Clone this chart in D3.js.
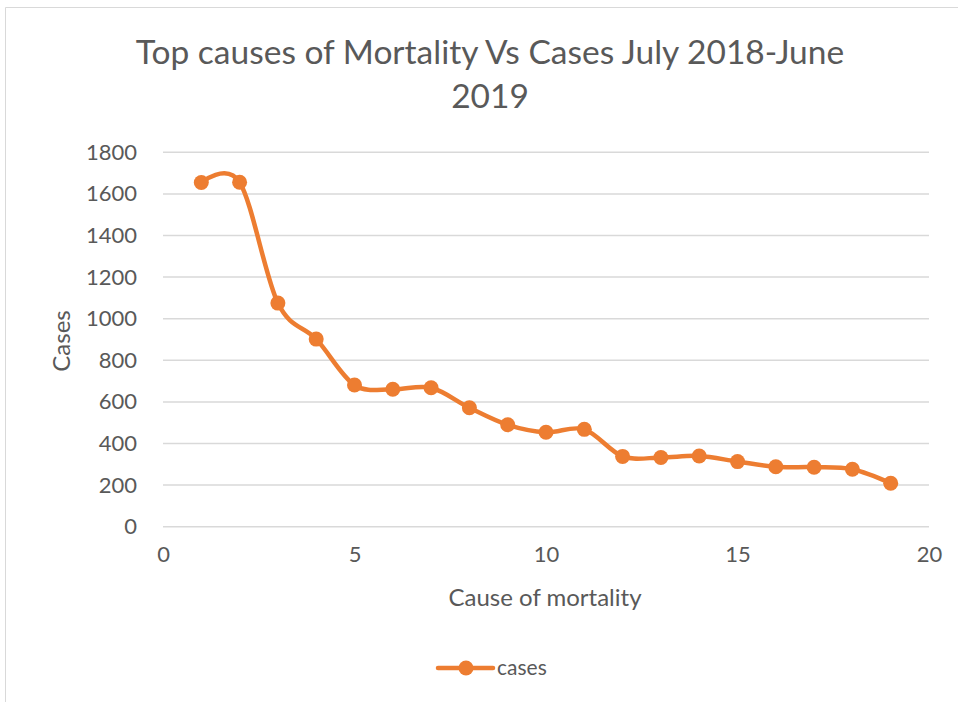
<!DOCTYPE html>
<html>
<head>
<meta charset="utf-8">
<script src="https://cdn.jsdelivr.net/npm/d3@7"></script>
<style>
  html, body { margin: 0; padding: 0; background: #fff; }
  svg { display: block; font-family: Lato, "Open Sans", sans-serif; }
</style>
</head>
<body>
<svg id="chart" width="958" height="702"></svg>
<script>
// Cause index and number of cases for each cause
const causes = [1, 2, 3, 4, 5, 6, 7, 8, 9, 10, 11, 12, 13, 14, 15, 16, 17, 18, 19];
const cases = [1655, 1656, 1075, 902, 681, 661, 668, 572, 490, 454, 468, 338, 333, 340, 313, 288, 286, 276, 209];
const xTicks = [0, 5, 10, 15, 20];
const yTicks = [0, 200, 400, 600, 800, 1000, 1200, 1400, 1600, 1800];
const titleLines = ["Top causes of Mortality Vs Cases July 2018-June", "2019"];
const seriesName = "cases";

const svg = d3.select("#chart");
const textColor = "#595959";
const lineColor = "#ED7D31";

// chart frame
svg.append("path")
  .attr("d", "M5.5,702 V7.5 H958")
  .attr("fill", "none")
  .attr("stroke", "#D9D9D9")
  .attr("stroke-width", 1);

const x = d3.scaleLinear().domain([0, 20]).range([163, 929]);
const y = d3.scaleLinear().domain([0, 1800]).range([526.7, 152.3]);

// horizontal gridlines
svg.append("g")
  .selectAll("line")
  .data(yTicks)
  .join("line")
  .attr("x1", x(0)).attr("x2", x(20))
  .attr("y1", d => y(d)).attr("y2", d => y(d))
  .attr("stroke", "#D9D9D9")
  .attr("stroke-width", 1.5);

// y axis labels
const yAxis = d3.axisLeft(y).tickValues(yTicks).tickFormat(d3.format("d")).tickSize(0).tickPadding(26);
svg.append("g")
  .attr("transform", `translate(${x(0)},0)`)
  .call(yAxis)
  .call(g => g.select(".domain").remove())
  .call(g => g.selectAll("text")
    .attr("fill", textColor)
    .attr("font-size", 22)
    .attr("font-family", "Lato, sans-serif"));

// x axis labels
const xAxis = d3.axisBottom(x).tickValues(xTicks).tickFormat(d3.format("d")).tickSize(0).tickPadding(20);
svg.append("g")
  .attr("transform", `translate(0,${y(0)})`)
  .call(xAxis)
  .call(g => g.select(".domain").remove())
  .call(g => g.selectAll("text")
    .attr("fill", textColor)
    .attr("font-size", 22)
    .attr("font-family", "Lato, sans-serif"));

// title
svg.append("text")
  .attr("text-anchor", "middle")
  .attr("fill", textColor)
  .attr("font-size", 33.5)
  .selectAll("tspan")
  .data(titleLines)
  .join("tspan")
  .attr("x", 490)
  .attr("y", (d, i) => 64 + i * 44)
  .text(d => d);

// axis titles
svg.append("text")
  .attr("transform", "translate(70,341) rotate(-90)")
  .attr("text-anchor", "middle")
  .attr("fill", textColor)
  .attr("font-size", 24)
  .text("Cases");

svg.append("text")
  .attr("x", 545)
  .attr("y", 606)
  .attr("text-anchor", "middle")
  .attr("fill", textColor)
  .attr("font-size", 24)
  .text("Cause of mortality");

// smoothed series line
const points = causes.map((c, i) => [c, cases[i]]);
const line = d3.line()
  .x(d => x(d[0]))
  .y(d => y(d[1]))
  .curve(d3.curveCardinal.tension(0));

svg.append("path")
  .datum(points)
  .attr("d", line)
  .attr("fill", "none")
  .attr("stroke", lineColor)
  .attr("stroke-width", 4.5)
  .attr("stroke-linecap", "round")
  .attr("stroke-linejoin", "round");

svg.append("g")
  .selectAll("circle")
  .data(points)
  .join("circle")
  .attr("cx", d => x(d[0]))
  .attr("cy", d => y(d[1]))
  .attr("r", 7.5)
  .attr("fill", lineColor);

// legend
const legend = svg.append("g").attr("transform", "translate(438,668)");
legend.append("line")
  .attr("x1", 0).attr("x2", 55)
  .attr("stroke", lineColor)
  .attr("stroke-width", 4.5)
  .attr("stroke-linecap", "round");
legend.append("circle")
  .attr("cx", 28).attr("r", 7.5)
  .attr("fill", lineColor);
legend.append("text")
  .attr("x", 59)
  .attr("y", 7)
  .attr("fill", textColor)
  .attr("font-size", 21)
  .text(seriesName);
</script>
</body>
</html>
